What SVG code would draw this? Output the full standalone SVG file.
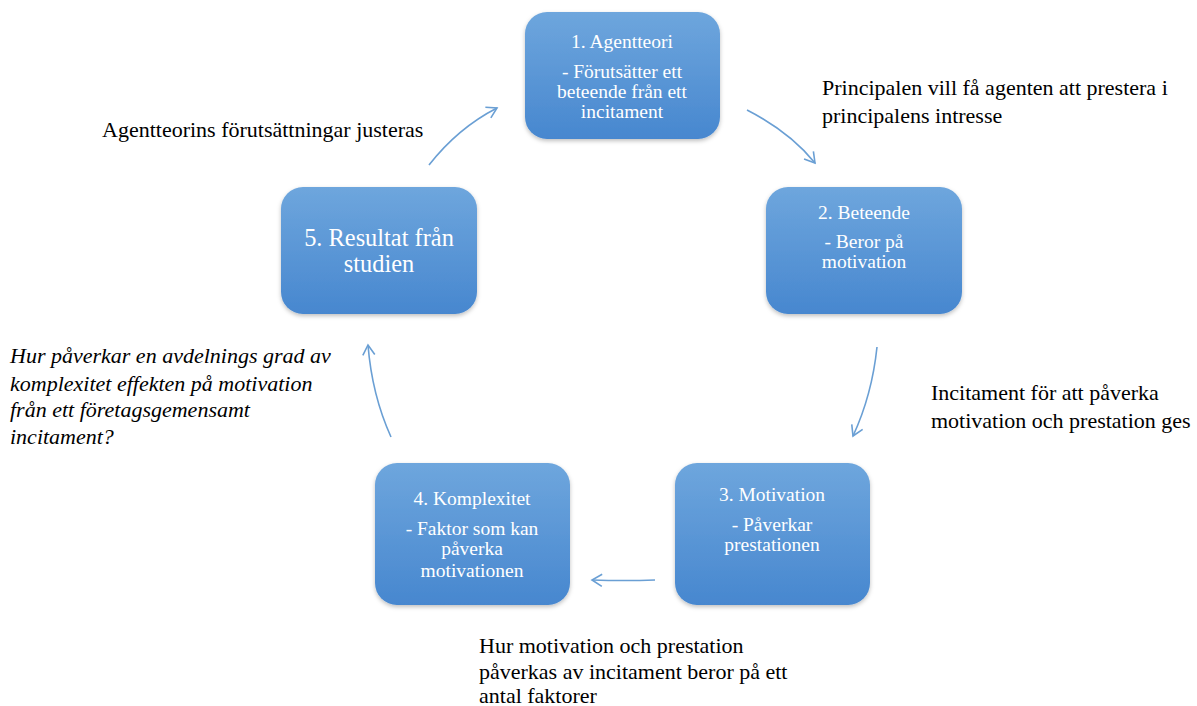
<svg xmlns="http://www.w3.org/2000/svg" width="1197" height="706" viewBox="0 0 1197 706">
<defs>
<linearGradient id="g" x1="0" y1="0" x2="0" y2="1">
<stop offset="0" stop-color="#6ea6dd"/>
<stop offset="1" stop-color="#4787cf"/>
</linearGradient>
<filter id="sh" x="-10%" y="-10%" width="120%" height="125%">
<feDropShadow dx="0" dy="2" stdDeviation="2" flood-color="#000" flood-opacity="0.25"/>
</filter>
<marker id="ah" markerWidth="14" markerHeight="14" refX="11" refY="7" orient="auto" markerUnits="userSpaceOnUse">
<path d="M1,1 L11,7 L1,13" fill="none" stroke="#6a9fd4" stroke-width="1.6"/>
</marker>
</defs>
<style>
.box{fill:url(#g);filter:url(#sh)}
.nt{font-family:"Liberation Serif",serif;font-size:19.5px;fill:#fff;text-anchor:middle}
.lb{font-family:"Liberation Serif",serif;font-size:22px;fill:#000}
.it{font-style:italic}
.cn{fill:none;stroke:#6a9fd4;stroke-width:1.6;marker-end:url(#ah)}
</style>
<rect width="1197" height="706" fill="#fff"/>
<g id="connectors">
<path class="cn" d="M747,110 Q790,132 815,163"/>
<path class="cn" d="M877,347 Q872,395 853,436"/>
<path class="cn" d="M655,580 Q625,581 592,580"/>
<path class="cn" d="M391,437 Q372,395 368,345"/>
<path class="cn" d="M429,165 Q458,128 497,108"/>
</g>
<g id="node1">
<rect class="box" x="525" y="12" width="195" height="127" rx="22"/>
<text class="nt" x="622" y="48">1. Agentteori</text>
<text class="nt" x="622" y="78">- Förutsätter ett</text>
<text class="nt" x="622" y="98">beteende från ett</text>
<text class="nt" x="622" y="118">incitament</text>
</g>
<g id="node2">
<rect class="box" x="766" y="187" width="196" height="127" rx="22"/>
<text class="nt" x="864" y="219">2. Beteende</text>
<text class="nt" x="864" y="248">- Beror på</text>
<text class="nt" x="864" y="268">motivation</text>
</g>
<g id="node3">
<rect class="box" x="675" y="463" width="195" height="142" rx="22"/>
<text class="nt" x="772" y="501">3. Motivation</text>
<text class="nt" x="772" y="531">- Påverkar</text>
<text class="nt" x="772" y="551">prestationen</text>
</g>
<g id="node4">
<rect class="box" x="375" y="463" width="195" height="142" rx="22"/>
<text class="nt" x="472" y="505">4. Komplexitet</text>
<text class="nt" x="472" y="535">- Faktor som kan</text>
<text class="nt" x="472" y="555">påverka</text>
<text class="nt" x="472" y="577">motivationen</text>
</g>
<g id="node5">
<rect class="box" x="281" y="187" width="196" height="127" rx="22"/>
<text class="nt" x="379" y="246" style="font-size:24.4px">5. Resultat från</text>
<text class="nt" x="379" y="272" style="font-size:24.4px">studien</text>
</g>
<g id="labels">
<text class="lb" x="102" y="137">Agentteorins förutsättningar justeras</text>
<text class="lb" x="822" y="95">Principalen vill få agenten att prestera i</text>
<text class="lb" x="822" y="123">principalens intresse</text>
<text class="lb" x="931" y="400">Incitament för att påverka</text>
<text class="lb" x="931" y="428">motivation och prestation ges</text>
<text class="lb" x="479" y="653">Hur motivation och prestation</text>
<text class="lb" x="479" y="679">påverkas av incitament beror på ett</text>
<text class="lb" x="479" y="703">antal faktorer</text>
<text class="lb it" x="10" y="363">Hur påverkar en avdelnings grad av</text>
<text class="lb it" x="10" y="391">komplexitet effekten på motivation</text>
<text class="lb it" x="10" y="417">från ett företagsgemensamt</text>
<text class="lb it" x="10" y="444">incitament?</text>
</g>
</svg>
